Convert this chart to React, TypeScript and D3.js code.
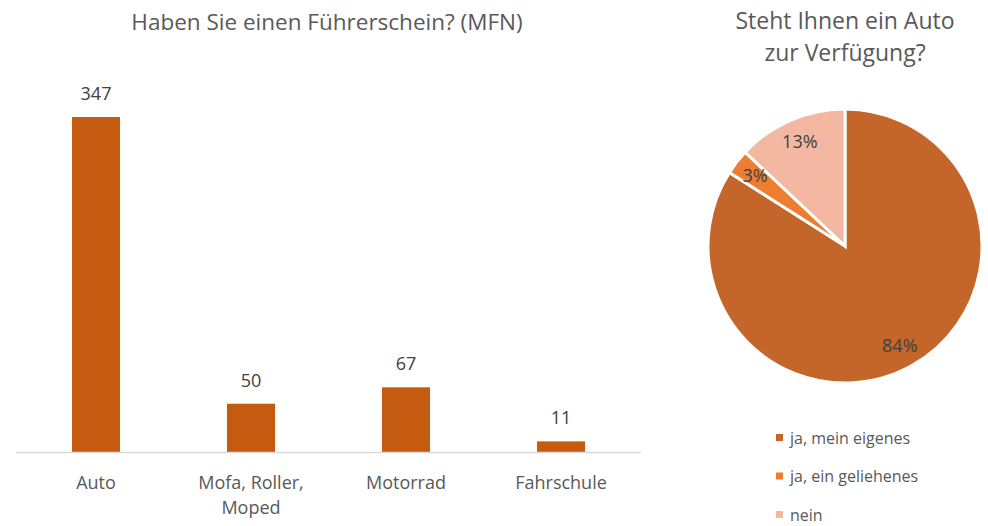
import React from 'react';
import * as d3 from 'd3';

const barCategories = ['Auto', 'Mofa, Roller, Moped', 'Motorrad', 'Fahrschule'];
const barLines = [['Auto'], ['Mofa, Roller,', 'Moped'], ['Motorrad'], ['Fahrschule']];
const barValues = [347, 50, 67, 11];

const pieLabels = ['ja, mein eigenes', 'ja, ein geliehenes', 'nein'];
const pieValues = [84, 3, 13];
const pieColors = ['#C4662A', '#ED7D31', '#F4B8A2'];

const FONT = "'Open Sans', 'Noto Sans', sans-serif";

export default function App() {
  const width = 988;
  const height = 526;

  // bar chart
  const baseY = 452;
  const x = d3.scaleBand<string>()
    .domain(barCategories)
    .range([18.5, 638.5])
    .paddingInner(0.69)
    .paddingOuter(0.345);
  const y = d3.scaleLinear().domain([0, 347]).range([baseY, 117]);

  // pie
  const cx = 845;
  const cy = 246;
  const r = 137;
  const pie = d3.pie<number>().sort(null).value(d => d);
  const arcs = pie(pieValues);
  const arc = d3.arc<d3.PieArcDatum<number>>().innerRadius(0).outerRadius(r);
  const labelArc = d3.arc<d3.PieArcDatum<number>>().innerRadius(0).outerRadius(r * 1.66);

  return (
    <svg width={width} height={height} style={{ position: 'absolute', left: 0, top: 0 }} fontFamily={FONT}>
      <rect width={width} height={height} fill="#fff" />
      {/* Balkendiagramm */}
      <text x={327} y={30} textAnchor="middle" fontSize={22.5} fill="#595959">
        Haben Sie einen Führerschein? (MFN)
      </text>
      {barCategories.map((c, i) => {
        const bx = x(c)!;
        const top = y(barValues[i]);
        const mid = bx + x.bandwidth() / 2;
        return (
          <g key={c}>
            <rect x={bx} y={top} width={x.bandwidth()} height={baseY - top} fill="#C55A11" />
            <text x={mid} y={top - 17} textAnchor="middle" fontSize={18} fill="#404040">
              {barValues[i]}
            </text>
            {barLines[i].map((l, j) => (
              <text key={j} x={mid} y={489 + j * 25} textAnchor="middle" fontSize={18} fill="#595959">
                {l}
              </text>
            ))}
          </g>
        );
      })}
      <line x1={16} x2={641} y1={baseY + 0.5} y2={baseY + 0.5} stroke="#D9D9D9" strokeWidth={1.5} />

      {/* Kreisdiagramm */}
      <text x={cx} y={29} textAnchor="middle" fontSize={23} fill="#595959">Steht Ihnen ein Auto</text>
      <text x={cx} y={61} textAnchor="middle" fontSize={23} fill="#595959">zur Verfügung?</text>
      <g transform={`translate(${cx},${cy})`}>
        {arcs.map((a, i) => (
          <path key={i} d={arc(a)!} fill={pieColors[i]} stroke="#fff" strokeWidth={3} strokeLinejoin="miter" />
        ))}
        {arcs.map((a, i) => {
          const [lx, ly] = labelArc.centroid(a);
          return (
            <text key={i} x={lx} y={ly + 6} textAnchor="middle" fontSize={18} fill="#404040">
              {pieValues[i]}%
            </text>
          );
        })}
      </g>
      {pieLabels.map((l, i) => (
        <g key={l} transform={`translate(776,${438 + i * 38.5})`}>
          <rect x={0} y={-4} width={7} height={7} fill={pieColors[i]} />
          <text x={14} y={5.5} fontSize={16} fill="#595959">{l}</text>
        </g>
      ))}
    </svg>
  );
}
